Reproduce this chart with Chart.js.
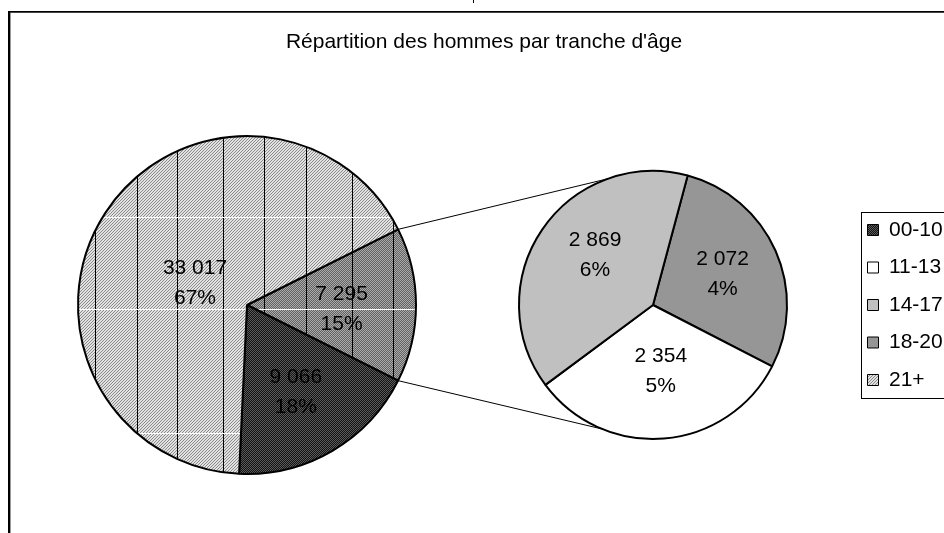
<!DOCTYPE html>
<html><head><meta charset="utf-8">
<script src="https://cdn.jsdelivr.net/npm/chart.js@4.4.1/dist/chart.umd.min.js"></script>
<style>
html,body{margin:0;padding:0;background:#fff;overflow:hidden;}
#wrap{position:relative;width:944px;height:533px;overflow:hidden;background:#fff;}
canvas{position:absolute;left:0;top:0;}
</style></head><body>
<div id="wrap"><canvas id="main" width="944" height="533"></canvas><canvas id="sub" width="1000" height="533"></canvas></div>
<script>
// ---------- data ----------
const chartTitle = "Répartition des hommes par tranche d'âge";
const categories = ['00-10', '11-13', '14-17', '18-20', '21+'];
const counts = [9066, 2354, 2869, 2072, 33017];
const mainCategories = ['00-10', '21+'];            // shown in the main pie
const detailCategories = ['18-20', '11-13', '14-17']; // split out into the second pie (clockwise)
const otherLabel = 'Autres';

// ---------- helpers ----------
const valueOf = c => counts[categories.indexOf(c)];
const grandTotal = counts.reduce((a, b) => a + b, 0);
const otherTotal = detailCategories.reduce((a, c) => a + valueOf(c), 0);
const mainLabels = [otherLabel, ...mainCategories];
const mainValues = [otherTotal, ...mainCategories.map(valueOf)];
const detailValues = detailCategories.map(valueOf);
const fmt = n => String(n).replace(/\B(?=(\d{3})+(?!\d))/g, ' ');
const FONT = '"Liberation Sans", Arial, sans-serif';
Chart.defaults.font.family = FONT;

function makeTile(size, fn) {
  const c = document.createElement('canvas'); c.width = c.height = size;
  const g = c.getContext('2d');
  for (let y = 0; y < size; y++) for (let x = 0; x < size; x++) { g.fillStyle = fn(x, y); g.fillRect(x, y, 1, 1); }
  return c;
}
const hatchTile = makeTile(3, (x, y) => ((x + y) % 3 === 2 ? '#8a8a8a' : '#e2e2e2'));
const midTile = makeTile(2, (x, y) => ((x + y) % 2 ? '#626262' : '#ababab'));
const darkTile = makeTile(2, (x, y) => ((x + y) % 2 ? '#141414' : '#5a5a5a'));
const gridX = [95, 137, 177, 223, 264, 306, 352, 393];
const gridY = [217, 309, 433];
function overlayPattern(ctx, tile) {
  const c = document.createElement('canvas'); c.width = 944; c.height = 533;
  const g = c.getContext('2d');
  g.fillStyle = g.createPattern(tile, 'repeat'); g.fillRect(0, 0, 944, 533);
  g.fillStyle = '#000'; gridX.forEach(x => g.fillRect(x, 0, 1, 533));
  g.fillStyle = '#fff'; gridY.forEach(y => g.fillRect(0, y, 430, 1));
  return ctx.createPattern(c, 'no-repeat');
}

const mainCanvas = document.getElementById('main');
const subCanvas = document.getElementById('sub');
const mctx = mainCanvas.getContext('2d');
const sctx = subCanvas.getContext('2d');

const mainFills = {
  [otherLabel]: overlayPattern(mctx, midTile),
  '00-10': mctx.createPattern(darkTile, 'repeat'),
  '21+': overlayPattern(mctx, hatchTile)
};
const legendFills = {
  '00-10': sctx.createPattern(darkTile, 'repeat'),
  '11-13': '#ffffff',
  '14-17': '#c0c0c0',
  '18-20': '#969696',
  '21+': sctx.createPattern(hatchTile, 'repeat')
};

// ---------- plugins ----------
const sliceLabels = {
  id: 'sliceLabels',
  afterDatasetsDraw(chart, args, opts) {
    const ctx = chart.ctx;
    const meta = chart.getDatasetMeta(0);
    const data = chart.data.datasets[0].data;
    ctx.save();
    ctx.font = '21px ' + FONT; ctx.fillStyle = '#000';
    ctx.textAlign = 'center'; ctx.textBaseline = 'middle';
    meta.data.forEach((arc, i) => {
      const p = arc.getProps(['x', 'y', 'startAngle', 'endAngle', 'outerRadius'], true);
      const pl = opts.place[i];
      const a = (p.startAngle + p.endAngle) / 2 + pl.da * Math.PI / 180;
      const cx = p.x + Math.cos(a) * p.outerRadius * pl.r;
      const cy = p.y + Math.sin(a) * p.outerRadius * pl.r;
      ctx.fillText(fmt(data[i]), cx, cy - 15);
      ctx.fillText(Math.round(data[i] / grandTotal * 100) + '%', cx, cy + 15);
    });
    ctx.restore();
  }
};

const frameTitle = {
  id: 'frameTitle',
  beforeDraw(chart) {
    const ctx = chart.ctx;
    ctx.save();
    ctx.fillStyle = '#000';
    ctx.fillRect(8, 11, 936, 1);
    ctx.fillStyle = '#444'; ctx.fillRect(9, 12, 935, 1);
    ctx.fillStyle = '#000'; ctx.fillRect(8, 11, 2, 522);
    ctx.fillStyle = '#999'; ctx.fillRect(10, 13, 1, 520);
    ctx.fillStyle = '#000'; ctx.fillRect(473, 0, 1, 3);
    ctx.font = '21px ' + FONT; ctx.textAlign = 'center'; ctx.textBaseline = 'alphabetic';
    ctx.fillText(chartTitle, 484, 47.5);
    ctx.restore();
  }
};

let mainChart = null;
const connectors = {
  id: 'connectors',
  afterDatasetsDraw(chart, args, opts) {
    if (!mainChart) return;
    const b = mainChart.getDatasetMeta(0).data[0].getProps(['x', 'y', 'startAngle', 'endAngle', 'outerRadius'], true);
    const s = chart.getDatasetMeta(0).data[0].getProps(['x', 'y', 'outerRadius'], true);
    const ctx = chart.ctx;
    ctx.save();
    ctx.strokeStyle = '#000'; ctx.lineWidth = 1;
    ctx.beginPath();
    [[b.startAngle, opts.upper], [b.endAngle, opts.lower]].forEach(([a1, a2deg]) => {
      const a2 = a2deg * Math.PI / 180;
      ctx.moveTo(b.x + Math.cos(a1) * b.outerRadius, b.y + Math.sin(a1) * b.outerRadius);
      ctx.lineTo(s.x + Math.cos(a2) * s.outerRadius, s.y + Math.sin(a2) * s.outerRadius);
    });
    ctx.stroke();
    ctx.restore();
  },
  afterDraw(chart) {
    const L = chart.legend;
    if (!L || !L.legendHitBoxes || !L.legendHitBoxes.length) return;
    const hb = L.legendHitBoxes;
    const first = hb[0], last = hb[hb.length - 1];
    const ctx = chart.ctx;
    const left = Math.round(first.left - 7) + 0.5;
    const top = Math.round(first.top - 7.5) + 0.5;
    const bottom = Math.round(last.top + last.height + 7.5) + 0.5;
    ctx.save();
    ctx.strokeStyle = '#000'; ctx.lineWidth = 1;
    ctx.strokeRect(left, top, 1100 - left, bottom - top);
    ctx.restore();
  }
};

// ---------- main pie ----------
const mainRotation = 90 - (otherTotal / grandTotal * 360) / 2;
mainChart = new Chart(mctx, {
  type: 'pie',
  data: {
    labels: mainLabels,
    datasets: [{
      data: mainValues,
      backgroundColor: mainLabels.map(l => mainFills[l]),
      borderColor: '#000', borderWidth: 2, hoverOffset: 0, offset: 0,
      rotation: mainRotation
    }]
  },
  options: {
    responsive: false, animation: false, devicePixelRatio: 1, events: [],
    rotation: mainRotation,
    layout: { padding: { left: 77, right: 527, top: 135, bottom: 58 } },
    plugins: {
      legend: { display: false }, tooltip: { enabled: false }, title: { display: false },
      sliceLabels: { place: [{ r: 0.56, da: 2.4 }, { r: 0.59, da: 1 }, { r: 0.333, da: -10.5 }] }
    }
  },
  plugins: [frameTitle, sliceLabels]
});

// ---------- detail pie + legend ----------
const legendTextX = 889;
const legendPad = 16.5, legendBox = 11, legendFont = 21;
const subRotation = 15;
const subChart = new Chart(sctx, {
  type: 'pie',
  data: {
    labels: detailCategories,
    datasets: [{
      data: detailValues,
      backgroundColor: detailCategories.map(c => legendFills[c]),
      borderColor: '#000', borderWidth: 2, hoverOffset: 0, offset: 0,
      rotation: subRotation
    }]
  },
  options: {
    responsive: false, animation: false, devicePixelRatio: 1, events: [],
    rotation: subRotation,
    layout: { padding: { left: 455, right: 40, top: 170, bottom: 93 } },
    plugins: {
      tooltip: { enabled: false }, title: { display: false },
      legend: {
        display: true, position: 'right', align: 'center',
        labels: {
          boxWidth: legendBox, boxHeight: legendBox, padding: legendPad, color: '#000',
          font: { size: legendFont, family: FONT },
          generateLabels: () => categories.map((c, i) => ({
            text: c, fillStyle: legendFills[c], strokeStyle: '#000', lineWidth: 1, hidden: false, index: i
          }))
        }
      },
      sliceLabels: { place: [{ r: 0.569, da: -0.3 }, { r: 0.501, da: -2 }, { r: 0.569, da: 6.3 }] },
      connectors: { upper: -109.4, lower: 112.2 }
    }
  },
  plugins: [sliceLabels, connectors]
});

// place legend so its text starts at legendTextX, and keep the pie centred at x=653
(function adjust() {
  const L = subChart.legend;
  const wantLeft = legendTextX - legendPad - legendBox - legendFont / 2;
  const pad = subChart.options.layout.padding;
  const newRight = pad.right + (L.left - wantLeft);
  subChart.options.layout.padding = { left: 2 * 653 - wantLeft, right: newRight, top: 170, bottom: 93 };
  subChart.update();
})();
</script>
</body></html>
